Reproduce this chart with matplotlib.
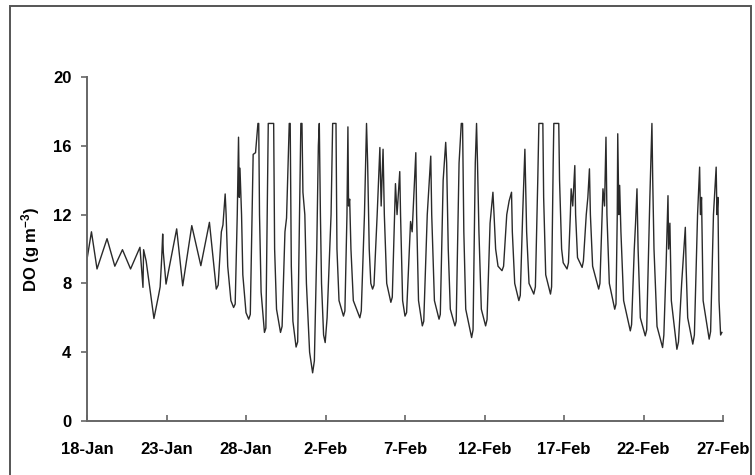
import numpy as np
import matplotlib
matplotlib.use("Agg")
import matplotlib.pyplot as plt
from matplotlib.patches import Rectangle

# days since 18-Jan and dissolved oxygen (g m-3)
days = [0.00, 0.28, 0.63, 1.26, 1.75, 2.23, 2.74, 3.33, 3.52, 3.56, 3.72, 4.21,
        4.50, 4.60, 4.70, 4.76, 4.80, 4.97, 5.64, 6.02, 6.59, 7.16, 7.70,
        8.13, 8.25, 8.45, 8.55, 8.69, 8.75, 8.85, 9.05, 9.22,
        9.32, 9.45, 9.53, 9.58, 9.62, 9.72, 9.80, 10.00, 10.17,
        10.27, 10.45, 10.60, 10.75, 10.80, 10.85, 10.95, 11.16,
        11.25, 11.40, 11.74, 11.80, 11.92, 12.17,
        12.27, 12.45, 12.55, 12.72, 12.78, 12.85, 12.95, 13.15,
        13.25, 13.45, 13.52, 13.58, 13.70, 13.80, 14.00, 14.19,
        14.30, 14.45, 14.55, 14.61, 14.68, 14.75, 14.88, 14.98,
        15.10, 15.35, 15.45, 15.66, 15.72, 15.85, 16.13,
        16.22, 16.35, 16.41, 16.45, 16.52, 16.60, 16.75, 17.16,
        17.25, 17.45, 17.58, 17.65, 17.75, 17.85, 17.96,
        18.05, 18.25, 18.42, 18.50, 18.62, 18.70, 18.85, 19.11,
        19.20, 19.40, 19.50, 19.67, 19.72, 19.85, 20.00,
        20.10, 20.35, 20.45, 20.68, 20.73, 20.85, 21.09,
        21.18, 21.40, 21.50, 21.62, 21.68, 21.85, 22.14,
        22.22, 22.40, 22.56, 22.62, 22.72, 22.85, 23.14,
        23.22, 23.40, 23.54, 23.62, 23.70, 23.82, 24.19,
        24.28, 24.42, 24.50, 24.56, 24.65, 24.80, 25.07,
        25.16, 25.35, 25.53, 25.60, 25.70, 25.85, 26.10,
        26.20, 26.40, 26.55, 26.70, 26.75, 26.90, 27.16,
        27.25, 27.40, 27.54, 27.58, 27.65, 27.80, 28.10,
        28.20, 28.35, 28.42, 28.67, 28.72, 28.85, 29.15,
        29.22, 29.32, 29.36, 29.67, 29.72, 29.85, 29.95, 30.19,
        30.28, 30.40, 30.45, 30.55, 30.68, 30.73, 30.85, 31.14,
        31.22, 31.40, 31.50, 31.60, 31.66, 31.80, 32.18,
        32.26, 32.45, 32.55, 32.64, 32.70, 32.85, 33.19,
        33.27, 33.35, 33.38, 33.45, 33.50, 33.58, 33.75, 34.17,
        34.25, 34.42, 34.50, 34.59, 34.66, 34.80, 35.11,
        35.20, 35.40, 35.53, 35.58, 35.66, 35.85, 36.20,
        36.28, 36.42, 36.54, 36.58, 36.66, 36.75, 37.10,
        37.20, 37.40, 37.63, 37.68, 37.78, 38.10,
        38.20, 38.40, 38.53, 38.58, 38.65, 38.75, 39.13,
        39.22, 39.40, 39.57, 39.62, 39.68, 39.75, 39.85, 39.93]
do = [9.4, 11.0, 8.84, 10.6, 9.0, 9.96, 8.84, 10.1, 7.77, 9.96, 9.3, 5.96,
      7.3, 7.8, 9.5, 10.87, 9.8, 7.96, 11.17, 7.86, 11.36, 9.03, 11.55,
      7.67, 7.9, 11.0, 11.4, 13.2, 12.0, 9.0, 7.0, 6.6,
      6.8, 12.0, 16.5, 13.0, 14.7, 12.0, 8.5, 6.3, 5.92,
      6.2, 15.5, 15.6, 17.3, 17.3, 12.0, 7.5, 5.15,
      5.4, 17.3, 17.3, 10.0, 6.5, 5.15,
      5.5, 11.0, 11.8, 17.3, 17.3, 9.0, 5.8, 4.3,
      4.6, 17.3, 17.3, 13.3, 12.0, 8.0, 4.0, 2.8,
      3.5, 10.0, 16.0, 17.3, 12.0, 8.0, 5.0, 4.56,
      6.0, 12.0, 17.3, 17.3, 10.0, 7.0, 6.1,
      6.4, 12.0, 17.1, 12.5, 12.9, 10.0, 7.0, 6.0,
      6.4, 12.0, 17.3, 15.0, 10.0, 8.0, 7.67,
      7.9, 12.0, 15.9, 12.5, 15.8, 12.0, 8.0, 6.9,
      7.2, 13.8, 12.0, 14.5, 12.0, 7.0, 6.1,
      6.3, 11.6, 11.0, 15.6, 12.0, 7.0, 5.53,
      5.8, 12.0, 13.5, 15.4, 12.0, 7.0, 5.92,
      6.2, 14.0, 16.2, 15.0, 10.0, 6.5, 5.53,
      5.8, 15.0, 17.3, 17.3, 11.0, 6.5, 4.85,
      5.3, 15.0, 17.3, 15.0, 11.0, 6.5, 5.53,
      5.9, 11.5, 13.3, 12.0, 10.0, 9.0, 8.74,
      9.0, 12.0, 12.8, 13.3, 11.0, 8.0, 7.0,
      7.3, 12.0, 15.8, 14.0, 11.0, 8.0, 7.38,
      7.8, 14.0, 17.3, 17.3, 13.0, 8.5, 7.38,
      7.8, 15.0, 17.3, 17.3, 14.0, 10.0, 9.2, 8.84,
      9.2, 12.0, 13.5, 12.5, 14.85, 12.0, 9.5, 8.93,
      9.3, 12.0, 13.0, 14.66, 12.0, 9.0, 7.67,
      8.0, 13.5, 12.5, 16.5, 12.0, 8.0, 6.5,
      6.8, 12.0, 16.7, 12.0, 13.7, 11.0, 7.0, 5.24,
      5.6, 10.0, 11.5, 13.5, 10.0, 6.0, 4.95,
      5.3, 13.0, 17.3, 14.0, 10.0, 5.5, 4.27,
      5.0, 9.0, 13.1, 10.0, 11.5, 7.0, 4.17,
      4.6, 8.0, 11.26, 9.0, 6.0, 4.47,
      5.0, 12.0, 14.76, 12.0, 13.0, 7.0, 4.76,
      5.2, 12.0, 14.76, 12.0, 13.0, 7.0, 5.0, 5.15]

tick_days = [0, 5, 10, 15, 20, 25, 30, 35, 40]
tick_labels = ['18-Jan', '23-Jan', '28-Jan', '2-Feb', '7-Feb',
               '12-Feb', '17-Feb', '22-Feb', '27-Feb']
y_ticks = [0, 4, 8, 12, 16, 20]

plt.rcParams['font.family'] = ['Liberation Sans', 'DejaVu Sans']
plt.rcParams['mathtext.fontset'] = 'custom'
plt.rcParams['mathtext.rm'] = 'Liberation Sans:bold'
plt.rcParams['mathtext.bf'] = 'Liberation Sans:bold'
plt.rcParams['mathtext.default'] = 'bf'

fig = plt.figure(figsize=(7.55, 4.75), dpi=100)
ax = fig.add_axes([87 / 755, 1 - 421 / 475, 636 / 755, 344 / 475])

ax.plot(days, do, color='#2a2a2a', linewidth=1.0)

ax.set_xlim(0, 40)
ax.set_ylim(0, 20)
ax.set_xticks(tick_days)
ax.set_xticklabels(tick_labels, fontsize=12, fontweight='bold')
ax.set_yticks(y_ticks)
ax.set_yticklabels([str(v) for v in y_ticks], fontsize=12, fontweight='bold')
ax.tick_params(axis='x', direction='in', length=4, width=1.2, color='#666666', pad=15)
ax.tick_params(axis='y', direction='out', length=4.3, width=1.2, color='#666666', pad=7)
for side in ['top', 'right']:
    ax.spines[side].set_visible(False)
for side in ['left', 'bottom']:
    ax.spines[side].set_color('#666666')
    ax.spines[side].set_linewidth(1.4)
ax.set_ylabel('DO (g m$^{-3}$)', fontsize=12, fontweight='bold', labelpad=8)

# frame round the whole picture
fig.patches.append(Rectangle((10 / 755, -0.05), 741 / 755, 1.05 - 6 / 475,
                             transform=fig.transFigure, fill=False,
                             edgecolor='#555555', linewidth=1.4))

fig.savefig('out.png', dpi=100)
